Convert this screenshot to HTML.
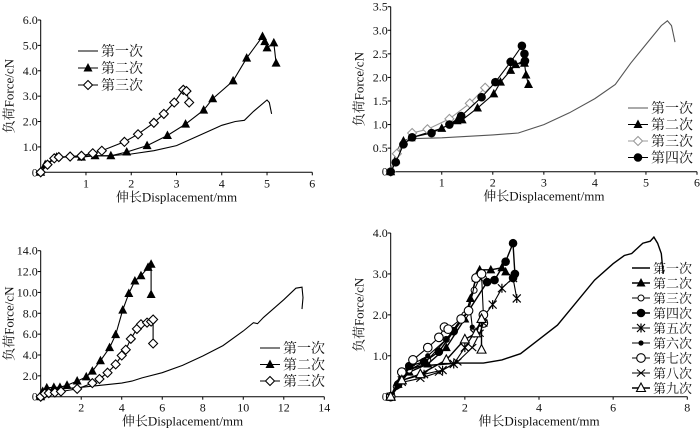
<!DOCTYPE html>
<html><head><meta charset="utf-8"><style>
html,body{margin:0;padding:0;background:#fff}
svg{display:block}
text{font-family:"Liberation Serif","Noto Serif CJK SC",serif;fill:#111}
</style></head><body>
<svg id="c" width="700" height="428" viewBox="0 0 700 428" xmlns="http://www.w3.org/2000/svg"></svg>
<script>
// ---- data ----
const p1Names=["第一次","第二次","第三次"];
const p1S1=[[0,0],[0.1,0.3],[0.3,0.55],[0.6,0.62],[1,0.65],[1.5,0.65],[2,0.72],[2.5,0.85],[3,1.05],[3.5,1.45],[4,1.85],[4.3,2.0],[4.5,2.05],[4.7,2.4],[5,2.85],[5.05,2.75],[5.1,2.3]];
const p1S2=[[0,0],[0.1,0.3],[0.35,0.6],[0.9,0.6],[1.2,0.65],[1.55,0.65],[1.9,0.8],[2.35,1.05],[2.8,1.45],[3.2,1.9],[3.6,2.45],[3.8,2.9],[4.25,3.6],[4.55,4.5],[4.9,5.35],[4.95,5.15],[5.0,4.9],[5.15,5.1],[5.2,4.3]];
const p1S3=[[0,0],[0.15,0.3],[0.3,0.55],[0.4,0.6],[0.65,0.62],[0.9,0.65],[1.15,0.75],[1.35,0.85],[1.85,1.2],[2.15,1.5],[2.5,1.95],[2.72,2.3],[2.95,2.75],[3.15,3.25],[3.22,3.2],[3.28,2.75]];
const p1YTicks=["0","1.0","2.0","3.0","4.0","5.0","6.0"];
const p1XTicks=["1","2","3","4","5","6"];

const p2Names=["第一次","第二次","第三次","第四次"];
const p2S1=[[0,0],[0.1,0.4],[0.2,0.6],[0.4,0.7],[1,0.72],[2,0.78],[2.5,0.82],[3,1.0],[3.5,1.25],[4,1.55],[4.4,1.85],[4.7,2.3],[5,2.7],[5.3,3.1],[5.42,3.2],[5.5,3.1],[5.57,2.75]];
const p2S2=[[0,0],[0.1,0.25],[0.25,0.65],[0.4,0.72],[1,0.92],[1.3,1.08],[1.4,1.1],[1.7,1.35],[2.02,1.65],[2.15,1.9],[2.35,2.15],[2.45,2.27],[2.6,2.35],[2.62,2.3],[2.65,2.05],[2.7,1.85]];
const p2S3=[[0,0],[0.12,0.38],[0.42,0.82],[0.72,0.9],[1.15,1.12],[1.55,1.45],[1.85,1.78]];
const p2S4=[[0,0],[0.1,0.2],[0.25,0.58],[0.42,0.73],[0.8,0.82],[1.15,1.0],[1.38,1.18],[1.78,1.58],[2.05,1.9],[2.35,2.33],[2.57,2.67],[2.62,2.5],[2.63,2.35]];
const p2YTicks=["0","0.5","1.0","1.5","2.0","2.5","3.0","3.5"];
const p2XTicks=["1","2","3","4","5","6"];

const p3Names=["第一次","第二次","第三次"];
const p3S1=[[0,0],[0.3,0.6],[1,0.75],[2,0.9],[3,1.1],[4,1.3],[4.5,1.5],[5,1.8],[6,2.3],[7,3],[8,3.9],[9,4.9],[10,6.3],[10.5,7.1],[10.7,7.0],[11,7.6],[12,9.3],[12.6,10.4],[12.9,10.5],[12.95,9.5],[12.9,8.4]];
const p3S2=[[0,0],[0.1,0.5],[0.3,0.85],[0.65,0.9],[0.95,0.9],[1.3,1.1],[1.8,1.5],[2.25,1.9],[2.55,2.45],[2.95,3.45],[3.4,4.7],[3.7,5.95],[4.05,8.3],[4.35,9.9],[4.65,11.1],[4.95,11.6],[5.3,12.4],[5.45,12.7],[5.45,9.8]];
const p3S3=[[0,0],[0.2,0.3],[0.4,0.35],[0.7,0.4],[1,0.5],[1.8,0.75],[2.55,1.3],[2.9,1.7],[3.3,2.3],[3.7,3.1],[4,3.95],[4.2,4.5],[4.45,5.55],[4.75,6.5],[4.95,6.95],[5.25,7.1],[5.45,7.2],[5.55,7.4],[5.55,5.1]];
const p3YTicks=["0","2.0","4.0","6.0","8.0","10.0","12.0","14.0"];
const p3XTicks=["2","4","6","8","10","12","14"];

const p4Names=["第一次","第二次","第三次","第四次","第五次","第六次","第七次","第八次","第九次"];
const p4S1=[[0,0],[0.3,0.6],[0.8,0.75],[1.5,0.8],[1.8,0.82],[2.5,0.82],[3,0.9],[3.5,1.05],[4,1.4],[4.5,1.75],[5,2.3],[5.5,2.85],[6,3.25],[6.3,3.45],[6.5,3.5],[6.8,3.75],[7,3.8],[7.1,3.9],[7.2,3.75],[7.3,3.5],[7.35,3.0]];
const p4S2=[[0,0],[0.2,0.3],[0.5,0.6],[1,0.8],[1.5,1.2],[2,1.9],[2.15,2.4],[2.3,2.9],[2.4,3.1],[2.7,3.1],[3,3.15],[3.1,3.05]];
const p4S3=[[0,0],[0.15,0.25],[0.5,0.65],[1,0.9],[1.5,1.4],[2,2.0],[2.25,2.6],[2.45,3.0],[2.5,2.9]];
const p4S4=[[0,0],[0.2,0.3],[0.5,0.75],[0.9,0.85],[1.3,1.1],[1.7,1.6],[2.1,2.1],[2.6,2.8],[2.8,2.85],[3.1,3.3],[3.3,3.75],[3.35,3.0],[3.3,2.9]];
const p4S5=[[0,0],[0.3,0.4],[0.9,0.55],[1.4,0.65],[1.7,0.8],[2.0,1.2],[2.25,1.55],[2.5,1.95],[2.75,2.25],[3.0,2.65],[3.3,2.9],[3.4,2.4]];
const p4S6=[[0,0],[0.2,0.35],[0.6,0.8],[1,1.0],[1.5,1.4],[1.9,1.9],[2.15,2.1],[2.2,1.7]];
const p4S7=[[0,0],[0.3,0.6],[0.6,0.9],[1.0,1.2],[1.3,1.45],[1.45,1.7],[1.55,1.65],[1.9,1.9],[2.1,2.1],[2.3,2.9],[2.45,3.0],[2.5,2.0],[2.5,1.8]];
const p4S8=[[0,0],[0.3,0.35],[0.8,0.45],[1.3,0.6],[1.8,0.85],[2.2,1.2],[2.4,1.55],[2.5,1.8]];
const p4S9=[[0,0],[0.3,0.4],[0.8,0.55],[1.5,0.9],[2.0,1.4],[2.3,1.55],[2.45,1.9],[2.45,1.15]];
const p4YTicks=["0","1.0","2.0","3.0","4.0"];
const p4XTicks=["2","4","6","8"];

// ---- drawing ----
const NS="http://www.w3.org/2000/svg";
const svg=document.getElementById('c');
function mk(tag,attrs,parent){const e=document.createElementNS(NS,tag);for(const k in attrs)e.setAttribute(k,attrs[k]);(parent||svg).appendChild(e);return e;}
function marker(g,type,x,y,col){
  let e;
  if(type==='tri'){e=mk('polygon',{points:`${x},${y-5} ${x-4.5},${y+3.5} ${x+4.5},${y+3.5}`,fill:'#000'},g);}
  else if(type==='otri'){e=mk('polygon',{points:`${x},${y-5} ${x-4.5},${y+3.5} ${x+4.5},${y+3.5}`,fill:'#fff',stroke:'#000','stroke-width':1.1},g);}
  else if(type==='dia'){e=mk('polygon',{points:`${x},${y-4.5} ${x+4.5},${y} ${x},${y+4.5} ${x-4.5},${y}`,fill:'#fff',stroke:col||'#000','stroke-width':1.1},g);}
  else if(type==='dot'){e=mk('circle',{cx:x,cy:y,r:4.3,fill:'#000'},g);}
  else if(type==='sdot'){e=mk('circle',{cx:x,cy:y,r:2.6,fill:'#000'},g);}
  else if(type==='ocirc'){e=mk('circle',{cx:x,cy:y,r:4.3,fill:'#fff',stroke:'#000','stroke-width':1.1},g);}
  else if(type==='socirc'){e=mk('circle',{cx:x,cy:y,r:3,fill:'#fff',stroke:'#000','stroke-width':1},g);}
  else if(type==='ast'){e=mk('path',{d:`M${x-4},${y-4}L${x+4},${y+4}M${x-4},${y+4}L${x+4},${y-4}M${x},${y-4.5}L${x},${y+4.5}`,stroke:'#000','stroke-width':1.2},g);}
  else if(type==='x'){e=mk('path',{d:`M${x-4},${y-3.5}L${x+4},${y+3.5}M${x-4},${y+3.5}L${x+4},${y-3.5}`,stroke:'#000','stroke-width':1.1},g);}
  if(e){}
}
function panel(cfg){
  const g=mk('g',{});
  
  
  const X=v=>cfg.x0+(v/cfg.xmax)*(cfg.x1-cfg.x0);
  const Y=v=>cfg.y0-(v/cfg.ymax)*(cfg.y0-cfg.y1);
  const ax=mk('path',{d:`M${cfg.x0},${cfg.y1}L${cfg.x0},${cfg.y0}L${cfg.x1},${cfg.y0}`,fill:'none',stroke:'#000','stroke-width':1},g);
  
  cfg.yt.forEach((t,i)=>{const v=i*cfg.ymax/(cfg.yt.length-1);const y=Y(v);
    mk('line',{x1:cfg.x0-3,x2:cfg.x0,y1:y,y2:y,stroke:'#000'},g);
    const e=mk('text',{x:cfg.x0-3,y:y+4,'text-anchor':'end','font-size':12},g);e.textContent=t;
    });
  cfg.xt.forEach((t,i)=>{const v=(i+1)*cfg.xmax/cfg.xt.length;const x=X(v);
    mk('line',{x1:x,x2:x,y1:cfg.y0,y2:cfg.y0+3,stroke:'#000'},g);
    const e=mk('text',{x:x,y:cfg.y0+15,'text-anchor':'middle','font-size':12},g);e.textContent=t;
    });
  const xl=mk('text',{x:(cfg.x0+cfg.x1)/2,y:cfg.y0+29,'text-anchor':'middle','font-size':13},g);xl.textContent='伸长Displacement/mm';
  
  const yc=(cfg.y0+cfg.y1)/2;const yx=cfg.x0-27;
  const yl=mk('text',{x:yx,y:yc,'text-anchor':'middle','font-size':13,transform:`rotate(-90 ${yx} ${yc})`},g);yl.textContent='负荷Force/cN';
  
  cfg.series.forEach((s,si)=>{
    const sg=mk('g',{},g);
    
    
    const d=s.data.map((p,i)=>(i?'L':'M')+X(p[0]).toFixed(1)+','+Y(p[1]).toFixed(1)).join('');
    mk('path',{d:d,fill:'none',stroke:s.col||'#000','stroke-width':s.w||1.1},sg);
    if(s.m) s.data.forEach(p=>marker(sg,s.m,X(p[0]),Y(p[1]),s.col));
  });
  const L=cfg.leg;
  cfg.series.forEach((s,i)=>{
    const y=L.y+i*L.dy;
    const lg=mk('g',{},g);
    
    
    mk('line',{x1:L.x,x2:L.x+L.w,y1:y,y2:y,stroke:s.col||'#000','stroke-width':s.w||1.1},lg);
    if(s.m) marker(lg,s.m,L.x+L.w/2,y,s.col);
    const t=mk('text',{x:L.x+L.w+3,y:y+5,'font-size':L.fs||14},lg);t.textContent=cfg.names[i];
  });
}
panel({name:'panel-top-left',x0:40.7,x1:312.3,y0:172.3,y1:20,xmax:6,ymax:6,yt:p1YTicks,xt:p1XTicks,names:p1Names,
  series:[{data:p1S1},{data:p1S2,m:'tri'},{data:p1S3,m:'dia'}],leg:{x:78,y:51,dy:17,w:20}});
panel({name:'panel-top-right',x0:390.7,x1:697,y0:171.7,y1:6.7,xmax:6,ymax:3.5,yt:p2YTicks,xt:p2XTicks,names:p2Names,
  series:[{data:p2S1,col:'#555'},{data:p2S2,m:'tri'},{data:p2S3,m:'dia',col:'#999'},{data:p2S4,m:'dot'}],leg:{x:628,y:108,dy:16.5,w:20}});
panel({name:'panel-bottom-left',x0:40.7,x1:324.3,y0:396.7,y1:250.7,xmax:14,ymax:14,yt:p3YTicks,xt:p3XTicks,names:p3Names,
  series:[{data:p3S1},{data:p3S2,m:'tri'},{data:p3S3,m:'dia'}],leg:{x:260,y:348,dy:16.5,w:20}});
panel({name:'panel-bottom-right',x0:390.7,x1:687.3,y0:396.7,y1:233,xmax:8,ymax:4,yt:p4YTicks,xt:p4XTicks,names:p4Names,
  series:[{data:p4S1,w:1.4},{data:p4S2,m:'tri',w:1.4},{data:p4S3,m:'socirc'},{data:p4S4,m:'dot',w:1.4},{data:p4S5,m:'ast'},{data:p4S6,m:'sdot'},{data:p4S7,m:'ocirc'},{data:p4S8,m:'x'},{data:p4S9,m:'otri',w:1.4}],
  leg:{x:632,y:268,dy:15,w:18,fs:13}});
</script>
</body></html>
